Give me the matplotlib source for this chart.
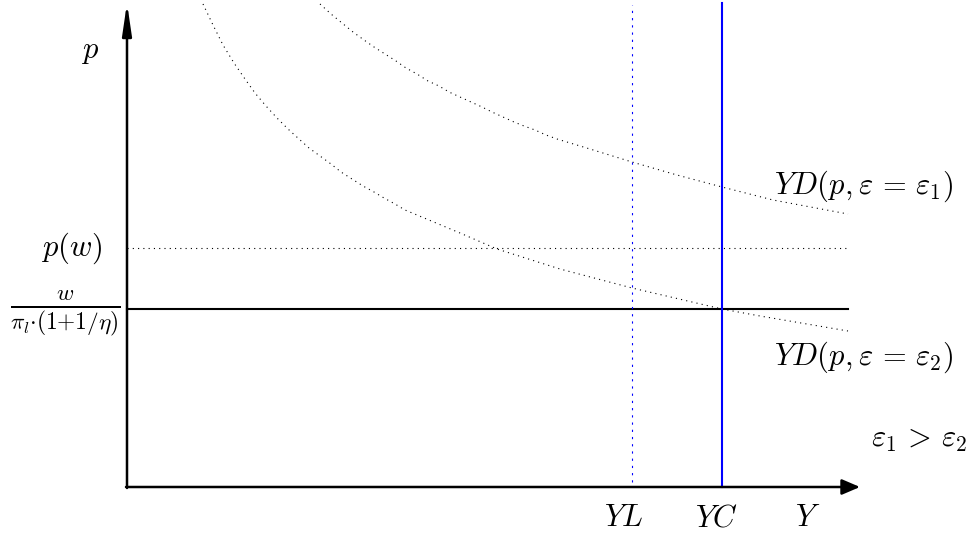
import matplotlib
matplotlib.use("Agg")
import matplotlib.pyplot as plt

plt.rcParams['mathtext.fontset'] = 'cm'
plt.rcParams['font.family'] = ['DejaVu Serif']

# Demand curves (origin at the axes corner)
upper_x = [193, 204, 215, 226, 237, 247, 258, 269, 279, 290, 301, 312, 322, 333, 344, 355,
           365, 376, 387, 397, 408, 419, 430, 463, 505, 550, 595, 646, 721]
upper_y = [483, 473, 464, 455, 447, 440, 433, 426, 419, 413, 406, 401, 395, 390, 385, 380,
           375, 370, 365, 361, 357, 352, 348, 338, 325, 312, 300, 287, 273]
lower_x = [76, 86, 96, 107, 118, 128, 139, 150, 161, 172, 182, 193, 204, 214, 225, 236,
           247, 257, 268, 278, 290, 333, 370, 433, 505, 595, 633, 721]
lower_y = [483, 462, 442, 424, 408, 394, 381, 369, 358, 348, 339, 331, 323, 315, 308, 301,
           295, 289, 283, 277, 272, 254, 238, 218, 199, 178, 171, 156]

p_w = 239          # p(w) level
cost_level = 178   # w / (pi_l (1+1/eta))
YL = 505
YC = 595
x_end = 721
x_axis_end = 733
y_axis_end = 484

fig = plt.figure(figsize=(9.74, 5.34), dpi=100)
ax = fig.add_axes([0, 0, 1, 1])
ax.set_xlim(-127, 847)
ax.set_ylim(-47, 487)
ax.axis('off')

dot = (0, (1, 3.75))
ax.plot(upper_x, upper_y, color='black', lw=0.8, ls=dot)
ax.plot(lower_x, lower_y, color='black', lw=0.8, ls=dot)
ax.plot([0, x_end], [p_w, p_w], color='black', lw=0.8, ls=dot)
ax.plot([0, x_end], [cost_level, cost_level], color='black', lw=1.5)
ax.plot([YL, YL], [5, y_axis_end - 2], color='blue', lw=0.8, ls=(0, (2, 4.5)))
ax.plot([YC, YC], [0, y_axis_end], color='blue', lw=1.5)

# axes with arrows
ax.annotate('', xy=(0, y_axis_end), xytext=(0, -1),
            arrowprops=dict(arrowstyle='-|>,head_length=1.9,head_width=0.28',
                            mutation_scale=10, lw=1.8, color='black',
                            shrinkA=0, shrinkB=0))
ax.annotate('', xy=(x_axis_end, 0), xytext=(-1, 0),
            arrowprops=dict(arrowstyle='-|>,head_length=1.1,head_width=0.47',
                            mutation_scale=10, lw=1.8, color='black',
                            shrinkA=0, shrinkB=0))

fs = 22
ax.text(-37, 437, r'$p$', fontsize=fs, ha='center', va='center')
ax.text(-25, p_w, r'$p(w)$', fontsize=fs, ha='right', va='center')
ax.text(-62, 174, r'$\frac{w}{\pi_l{\cdot}(1{+}1/\eta)}$', fontsize=24,
        ha='center', va='center')
ax.text(YL - 8, -31, r'$YL$', fontsize=fs, ha='center', va='center')
ax.text(YC - 6, -31, r'$YC$', fontsize=fs, ha='center', va='center')
ax.text(681, -31, r'$Y$', fontsize=fs, ha='center', va='center')
ax.text(647, 301, r'$YD(p,\varepsilon\,=\,\varepsilon_1)$', fontsize=fs, ha='left', va='center')
ax.text(647, 130, r'$YD(p,\varepsilon\,=\,\varepsilon_2)$', fontsize=fs, ha='left', va='center')
ax.text(744, 49, r'$\varepsilon_1\,>\,\varepsilon_2$', fontsize=fs, ha='left', va='center')

fig.savefig('out.png', dpi=100)
